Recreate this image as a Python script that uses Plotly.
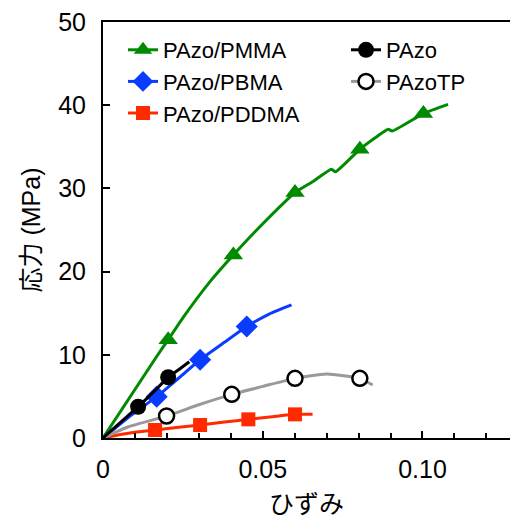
import plotly.graph_objects as go

# ---- data ----
pmma_x = [0, 0.0168, 0.0204, 0.0251, 0.0335, 0.0408, 0.0481, 0.0575, 0.0601, 0.0660, 0.0715, 0.0728, 0.0804, 0.0860, 0.0893, 0.0905, 0.1003, 0.1080]
pmma_y = [0, 9.8, 11.8, 14.5, 18.8, 22.0, 25.0, 28.6, 29.5, 30.9, 32.3, 32.0, 34.7, 36.3, 37.1, 36.9, 39.0, 40.1]
pmma_mk = [2, 5, 8, 12, 16]

pbma_x = [0, 0.0080, 0.0168, 0.0240, 0.0304, 0.0380, 0.0450, 0.0520, 0.0590]
pbma_y = [0, 2.5, 4.97, 7.3, 9.4, 11.5, 13.4, 14.9, 16.0]
pbma_mk = [2, 4, 6]

pddma_x = [0, 0.0050, 0.0100, 0.0163, 0.0230, 0.0304, 0.0380, 0.0455, 0.0530, 0.0601, 0.0656]
pddma_y = [0, 0.40, 0.70, 0.96, 1.25, 1.56, 1.92, 2.24, 2.55, 2.84, 2.84]
pddma_mk = [3, 5, 7, 9]

pazo_x = [0, 0.0110, 0.0160, 0.0204, 0.0240, 0.0270]
pazo_y = [0, 3.76, 5.6, 7.3, 8.3, 9.17]
pazo_mk = [1, 3]

pazotp_x = [0, 0.0080, 0.0199, 0.0300, 0.0403, 0.0500, 0.0601, 0.0700, 0.0804, 0.0844]
pazotp_y = [0, 1.35, 2.64, 4.0, 5.25, 6.2, 7.17, 7.7, 7.17, 6.37]
pazotp_mk = [2, 4, 6, 8]

x_tickvals = [0, 0.05, 0.10]
x_ticktext = ["0", "0.05", "0.10"]
y_tickvals = [0, 10, 20, 30, 40, 50]

FONT = "Liberation Sans, Arial, Noto Sans CJK JP"

fig = go.Figure()

def add(name, xs, ys, mk, color, symbol, msize, legend, fill=None, mline=None):
    fig.add_trace(go.Scatter(
        x=xs, y=ys, name=name, mode="lines+markers",
        line=dict(color=color, width=3, shape="spline", smoothing=0.5),
        marker=dict(symbol=symbol, size=msize, color=fill or color,
                    line=dict(color=mline or color, width=2.5 if mline else 0)),
        selectedpoints=mk,
        selected=dict(marker=dict(opacity=1)),
        unselected=dict(marker=dict(opacity=0)),
        legend=legend,
    ))

add("PAzo/PMMA", pmma_x, pmma_y, pmma_mk, "#008A00", "triangle-up", 17, "legend")
add("PAzo/PBMA", pbma_x, pbma_y, pbma_mk, "#0A3CFF", "diamond", 17, "legend")
add("PAzo/PDDMA", pddma_x, pddma_y, pddma_mk, "#FF2A00", "square", 14, "legend")
add("PAzoTP", pazotp_x, pazotp_y, pazotp_mk, "#999999", "circle", 15, "legend2", fill="white", mline="black")
add("PAzo", pazo_x, pazo_y, pazo_mk, "black", "circle", 16, "legend2")

fig.update_layout(
    width=510, height=518,
    margin=dict(l=103, r=0, t=22, b=80),
    paper_bgcolor="white", plot_bgcolor="white",
    font=dict(family=FONT, size=25, color="black"),
    xaxis=dict(
        range=[0, 0.1274], tickvals=x_tickvals, ticktext=x_ticktext,
        ticks="inside", ticklen=7, tickwidth=2, tickcolor="black",
        minor=dict(dtick=0.01, tick0=0, ticks="inside", ticklen=5, tickwidth=1.5, tickcolor="black"),
        showline=True, linecolor="black", linewidth=2, mirror=True,
        showgrid=False, zeroline=False,
        title=dict(text="ひずみ", standoff=14, font=dict(size=25)),
        ticklabelstandoff=8,
    ),
    yaxis=dict(
        range=[0, 50], tickvals=y_tickvals,
        ticks="inside", ticklen=7, tickwidth=2, tickcolor="black",
        showline=True, linecolor="black", linewidth=2, mirror=False,
        showgrid=False, zeroline=False,
        title=dict(text="応力 (MPa)", standoff=10, font=dict(size=25)),
        ticklabelstandoff=10,
    ),
    legend=dict(x=(123 - 103) / 407, y=(438 - 29) / 416, xanchor="left", yanchor="top",
                font=dict(size=22), bgcolor="rgba(0,0,0,0)", itemwidth=30,
                traceorder="normal", tracegroupgap=0),
    legend2=dict(x=(346 - 103) / 407, y=(438 - 29) / 416, xanchor="left", yanchor="top",
                 font=dict(size=22), bgcolor="rgba(0,0,0,0)", itemwidth=30,
                 traceorder="reversed"),
    showlegend=True,
)

fig.write_html("out.html")
